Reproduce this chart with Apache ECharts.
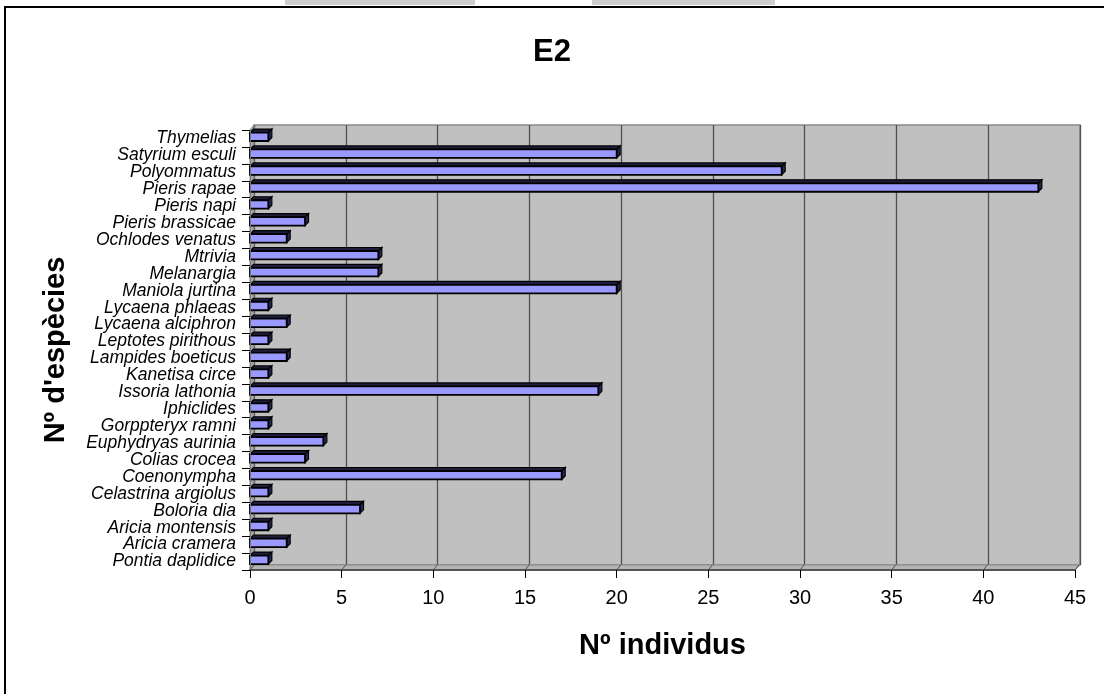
<!DOCTYPE html>
<html>
<head>
<meta charset="utf-8">
<script src="https://cdn.jsdelivr.net/npm/echarts@6/dist/echarts.min.js"></script>
<style>
  html, body { margin: 0; padding: 0; background: #ffffff; }
  #chart { width: 1104px; height: 694px; }
</style>
</head>
<body>
<div id="chart"></div>
<script>
// Species, listed from the bottom of the axis to the top
const species = [
  'Pontia daplidice', 'Aricia cramera', 'Aricia montensis', 'Boloria dia',
  'Celastrina argiolus', 'Coenonympha', 'Colias crocea', 'Euphydryas aurinia',
  'Gorppteryx ramni', 'Iphiclides', 'Issoria lathonia', 'Kanetisa circe',
  'Lampides boeticus', 'Leptotes pirithous', 'Lycaena alciphron', 'Lycaena phlaeas',
  'Maniola jurtina', 'Melanargia', 'Mtrivia', 'Ochlodes venatus',
  'Pieris brassicae', 'Pieris napi', 'Pieris rapae', 'Polyommatus',
  'Satyrium esculi', 'Thymelias'
];

// Individuals counted per species (same order)
const individuals = [
  1, 2, 1, 6,
  1, 17, 3, 4,
  1, 1, 19, 1,
  2, 1, 2, 1,
  20, 7, 7, 2,
  3, 1, 43, 29,
  20, 1
];

// Value axis ticks
const xMin = 0;
const xMax = 45;
const xStep = 5;
const xTicks = [0, 5, 10, 15, 20, 25, 30, 35, 40, 45];

const FONT = "'Liberation Sans', Arial, sans-serif";
const DEPTH = 4;

// Draws one bar as a small box: front face, top face and right end face
function renderBar(params, api) {
  const v = api.value(0);
  const c = api.value(1);
  const p0 = api.coord([0, c]);
  const p1 = api.coord([v, c]);
  const band = api.size([0, 1])[1];
  const h = band * 0.5;
  const d = 3.5;
  const yc = p0[1] - band * 0.1;
  const yt = yc - h / 2;
  const yb = yc + h / 2;
  const x0 = p0[0];
  const x1 = p1[0];
  return {
    type: 'group',
    children: [
      {
        type: 'polygon',
        shape: { points: [[x0, yt], [x0 + d, yt - d], [x1 + d, yt - d], [x1, yt]] },
        style: { fill: '#1e1e3c', stroke: '#000000', lineWidth: 1.2 }
      },
      {
        type: 'polygon',
        shape: { points: [[x1, yt], [x1 + d, yt - d], [x1 + d, yb - d], [x1, yb]] },
        style: { fill: '#262650', stroke: '#000000', lineWidth: 1.2 }
      },
      {
        type: 'rect',
        shape: { x: x0, y: yt, width: x1 - x0, height: h },
        style: { fill: '#9999ff', stroke: '#000000', lineWidth: 1.8 }
      }
    ]
  };
}

// Short slanted strokes joining each front tick to its wall gridline across the floor
function renderTickLink(params, api) {
  const p = api.coord([api.value(0), 0]);
  const bottom = params.coordSys.y + params.coordSys.height;
  return {
    type: 'line',
    shape: { x1: p[0], y1: bottom, x2: p[0] + DEPTH, y2: bottom - DEPTH - 1 },
    style: { stroke: '#505050', lineWidth: 1 }
  };
}

const chart = echarts.init(document.getElementById('chart'), null, { renderer: 'canvas' });

const option = {
  backgroundColor: '#ffffff',
  animation: false,
  textStyle: { fontFamily: FONT },
  title: {
    text: 'E2',
    left: 'center',
    top: 32,
    textStyle: { fontFamily: FONT, fontSize: 31, fontWeight: 'bold', color: '#000000' }
  },
  graphic: [
    // frame around the chart
    {
      type: 'rect', z: -10, silent: true,
      shape: { x: 5, y: 7, width: 1200, height: 800 },
      style: { fill: 'none', stroke: '#000000', lineWidth: 2 }
    },
    // light bands along the top edge
    {
      type: 'rect', z: -10, silent: true,
      shape: { x: 285, y: 0, width: 190, height: 5 },
      style: { fill: '#cfcfcf' }
    },
    {
      type: 'rect', z: -10, silent: true,
      shape: { x: 592, y: 0, width: 183, height: 5 },
      style: { fill: '#cfcfcf' }
    },
    // left side wall of the plot box
    {
      type: 'polygon', z: 1, silent: true,
      shape: { points: [[250, 130], [254, 125], [254, 565], [250, 570]] },
      style: { fill: '#a6a6a6', stroke: '#808080', lineWidth: 1 }
    },
    // floor of the plot box
    {
      type: 'polygon', z: 1, silent: true,
      shape: { points: [[250, 570], [254, 565], [1080, 565], [1075, 570]] },
      style: { fill: '#b4b4b4', stroke: '#8a8a8a', lineWidth: 1 }
    }
  ],
  grid: [
    {
      // back wall
      left: 254, right: 24, top: 125, bottom: 129,
      show: true,
      backgroundColor: '#c0c0c0',
      borderColor: '#8a8a8a',
      borderWidth: 1.5
    },
    {
      // front plane holding bars and axes
      left: 250, right: 29, top: 130, bottom: 124
    }
  ],
  xAxis: [
    {
      gridIndex: 0,
      type: 'value',
      min: xMin, max: xMax, interval: xStep,
      axisLine: { show: false },
      axisTick: { show: false },
      axisLabel: { show: false },
      splitLine: { show: true, lineStyle: { color: '#505050', width: 1.3 } }
    },
    {
      gridIndex: 1,
      type: 'value',
      z: 5,
      min: xMin, max: xMax, interval: xStep,
      axisLine: { show: true, lineStyle: { color: '#555555', width: 1.8 } },
      axisTick: { show: true, length: 8, lineStyle: { color: '#000000', width: 1 } },
      axisLabel: { show: true, fontFamily: FONT, fontSize: 20, color: '#000000', margin: 18 },
      splitLine: { show: false },
      name: 'Nº individus',
      nameLocation: 'middle',
      nameGap: 61,
      nameTextStyle: { fontFamily: FONT, fontSize: 29, fontWeight: 'bold', color: '#000000' }
    }
  ],
  yAxis: [
    {
      gridIndex: 0,
      type: 'category',
      data: species,
      show: false
    },
    {
      gridIndex: 1,
      type: 'category',
      z: 5,
      data: species,
      axisLine: { show: true, lineStyle: { color: '#777777', width: 1 } },
      axisTick: { show: true, length: 8, inside: false, alignWithLabel: false, lineStyle: { color: '#000000', width: 1 } },
      axisLabel: {
        show: true, interval: 0, margin: 14,
        fontFamily: FONT, fontSize: 17.5, fontStyle: 'italic', color: '#000000'
      },
      splitLine: { show: false },
      name: "Nº d'espècies",
      nameLocation: 'middle',
      nameRotate: 90,
      nameGap: 180,
      nameTextStyle: { fontFamily: FONT, fontSize: 29, fontWeight: 'bold', color: '#000000' }
    }
  ],
  series: [
    {
      type: 'custom',
      xAxisIndex: 1,
      yAxisIndex: 1,
      z: 2,
      silent: true,
      renderItem: renderTickLink,
      encode: { x: 0 },
      data: xTicks.map(t => [t, 0])
    },
    {
      type: 'custom',
      xAxisIndex: 1,
      yAxisIndex: 1,
      z: 3,
      renderItem: renderBar,
      encode: { x: 0, y: 1 },
      data: species.map((s, i) => [individuals[i], i])
    }
  ]
};

chart.setOption(option);
</script>
</body>
</html>
